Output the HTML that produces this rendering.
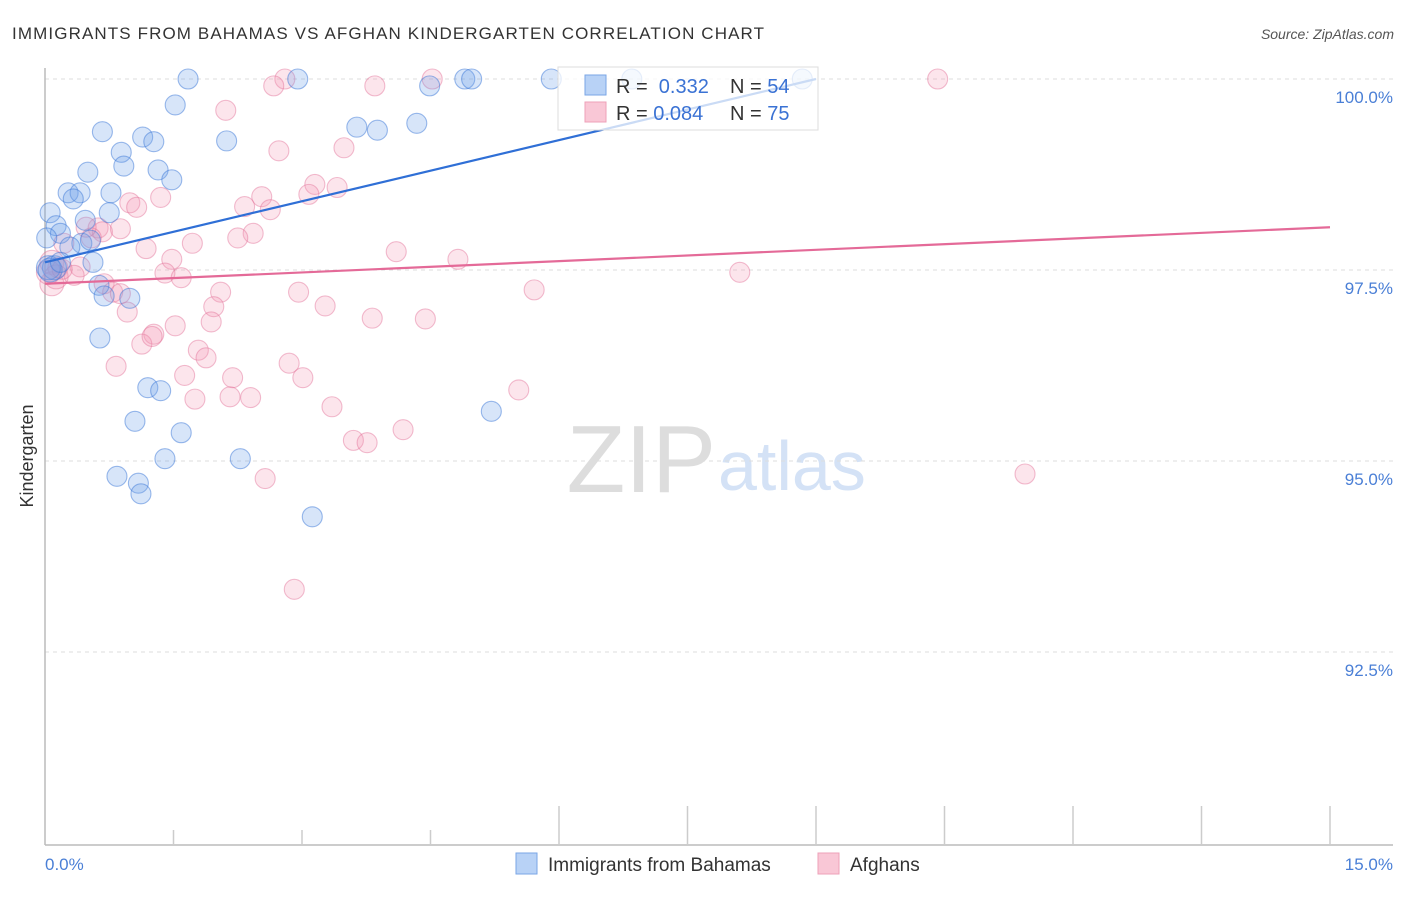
<!DOCTYPE html>
<html><head><meta charset="utf-8"><style>
body{margin:0;background:#fff;font-family:"Liberation Sans",sans-serif}
svg text{font-family:"Liberation Sans",sans-serif}
</style></head><body>
<svg id="c" width="1406" height="892" viewBox="0 0 1406 892">
<text x="12" y="39" font-size="17" fill="#333" textLength="752">IMMIGRANTS FROM BAHAMAS VS AFGHAN KINDERGARTEN CORRELATION CHART</text>
<text x="1394" y="39" font-size="14" fill="#555" font-style="italic" text-anchor="end">Source: ZipAtlas.com</text>
<text x="33" y="456" font-size="18" fill="#333" transform="rotate(-90 33 456)" text-anchor="middle">Kindergarten</text>
<text x="716" y="492" font-size="96" fill="#ddd" font-family="Liberation Serif" text-anchor="end">ZIP</text>
<text x="718" y="490" font-size="70" fill="#d4e2f6">atlas</text>
<g id="grid"></g><g id="pts"></g><g id="lines"></g>
</svg>
<script>
const xTicks=[0,1,2,3,4,5,6,7,8,9,10,15];
const yTicks=[100,97.5,95,92.5];
const yTickLabels=["100.0%","97.5%","95.0%","92.5%"];
const blueX=[1.67,2.95,4.90,4.98,5.91,6.85,8.84,4.49,1.52,2.12,0.67,1.14,1.27,0.89,0.92,1.32,0.50,1.48,3.64,3.88,4.34,0.27,0.41,0.77,0.33,0.75,0.06,0.13,0.47,0.18,0.02,0.43,0.53,0.29,0.56,0.11,0.04,0.63,0.69,0.99,0.64,1.20,1.35,1.05,1.59,5.21,1.40,2.28,0.84,1.09,1.12,3.12,0.06,0.18];
const blueY=[100,100,100,100,100,100,100,99.91,99.66,99.19,99.31,99.24,99.18,99.04,98.86,98.81,98.78,98.68,99.37,99.33,99.42,98.51,98.51,98.51,98.43,98.25,98.25,98.08,98.15,97.98,97.92,97.85,97.89,97.80,97.60,97.53,97.53,97.30,97.16,97.13,96.61,95.96,95.92,95.52,95.37,95.65,95.03,95.03,94.80,94.71,94.57,94.27,97.50,97.60];
const pinkX=[2.80,4.52,10.42,2.67,3.85,2.11,2.73,3.49,3.15,3.41,3.08,1.35,0.99,1.07,2.53,2.33,2.63,2.43,2.25,0.62,0.88,0.67,0.54,1.18,1.72,4.10,4.82,1.48,1.40,1.59,0.22,0.08,0.15,0.41,0.69,0.79,0.08,2.05,2.96,5.71,8.11,3.27,1.97,3.82,4.44,0.96,1.94,1.52,1.27,1.13,1.79,1.88,2.85,0.83,2.19,1.63,3.01,5.53,1.75,2.16,2.40,3.35,4.18,3.60,3.76,2.57,11.44,2.91,0.13,0.04,0.34,1.25,0.88,0.20,0.48];
const pinkY=[100,100,100,99.91,99.91,99.59,99.06,99.10,98.62,98.58,98.49,98.45,98.38,98.32,98.46,98.33,98.29,97.98,97.92,98.05,98.04,98.00,97.92,97.78,97.85,97.74,97.64,97.64,97.46,97.40,97.85,97.60,97.53,97.54,97.32,97.21,97.32,97.21,97.21,97.24,97.47,97.03,97.02,96.87,96.86,96.95,96.82,96.77,96.66,96.53,96.45,96.35,96.28,96.24,96.09,96.12,96.09,95.93,95.81,95.84,95.83,95.71,95.41,95.27,95.24,94.77,94.83,93.32,97.41,97.47,97.43,96.63,97.19,97.51,98.06];
const blueLine=[[0,97.60],[9.0,100]];
const pinkLine=[[0,97.32],[15,98.06]];
const NS="http://www.w3.org/2000/svg";
const X=v=>45+v/15*1285, Y=v=>79+(100-v)/2.5*191;
function mk(t,a,p){const e=document.createElementNS(NS,t);for(const k in a)e.setAttribute(k,a[k]);p.appendChild(e);return e;}
const g=document.getElementById('grid'),P=document.getElementById('pts'),L=document.getElementById('lines');
yTicks.forEach((t,i)=>{
 const l=mk('line',{x1:45,x2:1393,y1:Y(t),y2:Y(t),stroke:'#ddd','stroke-dasharray':'4,4'},g);
 
 
 const tx=mk('text',{x:1393,y:Y(t)+24,'font-size':17,fill:'#4a7fd6','text-anchor':'end'},g);tx.textContent=yTickLabels[i];
 
 
});
const ax=mk('line',{x1:45,x2:1393,y1:845,y2:845,stroke:'#bbb','stroke-width':1.5},g);


const ay=mk('line',{x1:45,x2:45,y1:68,y2:845,stroke:'#bbb','stroke-width':1.5},g);


for(let i=1;i<=10;i++){const x=45+i*128.5;const tk=mk('line',{x1:x,x2:x,y1:i<4?830:806,y2:845,stroke:'#ccc','stroke-width':1.5},g);
 
 }
[["0.0%",45,"start"],["15.0%",1393,"end"]].forEach(a=>{const t=mk('text',{x:a[1],y:870,'font-size':17,fill:'#4a7fd6','text-anchor':a[2]},g);t.textContent=a[0];
 
 });
function pts(xs,ys,fill,stroke,name){xs.forEach((x,i)=>{const r=(x<0.15&&Math.abs(ys[i]-97.5)<0.2)?12:10;
 const c=mk('circle',{cx:X(x),cy:Y(ys[i]),r:r,fill:fill,stroke:stroke,'stroke-width':1.1},P);
 
 });}
pts(pinkX,pinkY,'rgba(244,150,178,0.25)','rgba(226,110,150,0.45)','afghans-point');
pts(blueX,blueY,'rgba(110,160,235,0.28)','rgba(60,120,215,0.5)','bahamas-point');
const bl=mk('line',{x1:X(blueLine[0][0]),y1:Y(blueLine[0][1]),x2:X(blueLine[1][0]),y2:Y(blueLine[1][1]),stroke:'#2f6fd6','stroke-width':2.2},L);


const pl=mk('line',{x1:X(pinkLine[0][0]),y1:Y(pinkLine[0][1]),x2:X(pinkLine[1][0]),y2:Y(pinkLine[1][1]),stroke:'#e46a98','stroke-width':2.2},L);


</script>
<svg width="1406" height="892" style="position:absolute;left:0;top:0">
<g>
<rect x="558" y="67" width="260" height="63" fill="rgba(255,255,255,0.75)" stroke="#ddd"/>
<rect x="585" y="75" width="21" height="20" fill="#b8d2f6" stroke="#7aa6e6"/>
<rect x="585" y="102" width="21" height="20" fill="#f9c7d6" stroke="#eea0b8"/>
<text x="616" y="93" font-size="20" fill="#333">R = <tspan fill="#3a72d4">&#160;0.332</tspan><tspan x="730">N = </tspan><tspan fill="#3a72d4">54</tspan></text>
<text x="616" y="120" font-size="20" fill="#333">R = <tspan fill="#3a72d4">0.084</tspan><tspan x="730">N = </tspan><tspan fill="#3a72d4">75</tspan></text>
</g>
<g>
<rect x="516" y="853" width="21" height="21" fill="#b8d2f6" stroke="#7aa6e6"/>
<text x="548" y="871" font-size="19" fill="#333">Immigrants from Bahamas</text>
<rect x="818" y="853" width="21" height="21" fill="#f9c7d6" stroke="#eea0b8"/>
<text x="850" y="871" font-size="19" fill="#333">Afghans</text>
</g>
</svg>
</body></html>
